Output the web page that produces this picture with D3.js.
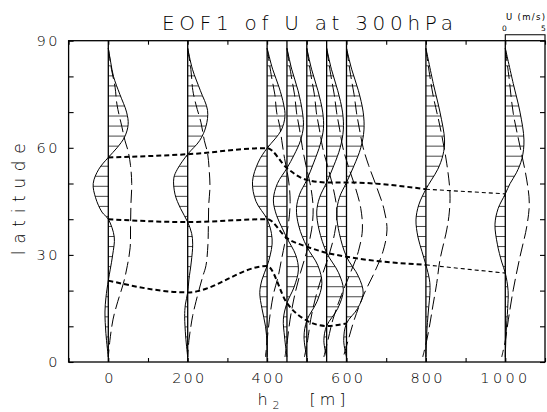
<!DOCTYPE html>
<html>
<head>
<meta charset="utf-8">
<script src="https://cdn.jsdelivr.net/npm/d3@7"></script>
<style>
  html, body { margin: 0; padding: 0; background: #fff; }
  svg { display: block; }
  text { font-family: "DejaVu Sans", sans-serif; fill: #000; }
</style>
</head>
<body>
<svg id="chart" width="547" height="412"></svg>
<script>
// Experiments: mountain height h2 (m)
const h2Values = [0, 200, 400, 450, 500, 550, 600, 800, 1000];
const xTickLabels = [0, 200, 400, 600, 800, 1000];
const yTickLabels = [0, 30, 60, 90];

// Latitudes where EOF1 changes sign, one per experiment
const northNode = [57.3, 58.2, 59.9, 54.3, 51.0, 50.3, 50.3, 48.4, 47.1];
const middleNode = [40.0, 39.2, 40.0, 34.7, 32.3, 30.6, 29.5, 27.2, 24.9];
const southNode = [22.8, 19.5, 26.9, 16.5, 11.6, 10.1, 10.8];

// EOF1 of U (m/s) as [latitude, value]
const eof0 = [[87.9,0],[84,0.3],[80,0.65],[75,1.45],[70,2.3],[66.5,2.5],[63,2.05],[60,1.1],[57.3,0],[54,-1.2],[50,-1.9],[46,-1.6],[42,-0.8],[40,0],[35,0.75],[30,0.55],[26,0.25],[22.8,0],[18,-0.3],[14,-0.42],[8,-0.3],[1.4,0]];
const eof200 = [[87.9,0],[82,0.6],[76,1.6],[70.5,2.5],[66,2.3],[62,1.5],[58.2,0],[54,-1.3],[51.5,-1.75],[47,-1.6],[43,-0.9],[39.2,0],[36,0.5],[33,0.63],[28,0.45],[23,0.15],[19.5,0],[16,-0.3],[12.7,-0.38],[7,-0.25],[1.4,0]];
const eof400 = [[87.9,0],[82,0.7],[77,1.5],[72,2.1],[68.8,2.25],[65,1.8],[62.5,1.0],[59.9,0],[56,-1.1],[50.5,-1.84],[45,-1.4],[40,0],[36,0.55],[33,0.63],[30,0.4],[26.9,0],[23,-0.65],[19.4,-0.92],[15,-0.65],[10,-0.2],[5,0],[1.4,0]];
const eof450 = [[87.9,0],[82,0.6],[76,1.4],[70,1.95],[66,2.07],[62,1.7],[58,0.9],[54.3,0],[50,-1.2],[45.4,-1.71],[41,-1.3],[37.5,-0.6],[34.7,0],[30,1.1],[25.8,1.44],[21,0.9],[16.5,0],[12,-0.45],[7,-0.3],[1.4,0]];
const eof500 = [[87.9,0],[82,0.6],[76,1.4],[70,2.0],[65.5,2.1],[61,1.7],[56,0.9],[51,0],[47,-0.9],[43,-1.3],[38,-1.0],[32.3,0],[27,1.4],[22,1.9],[17,1.3],[11.6,0],[7,-0.35],[1.4,0]];
const eof550 = [[87.9,0],[82,0.6],[76,1.4],[70,2.0],[65,2.1],[60,1.7],[55,0.9],[50.3,0],[46,-0.9],[42,-1.25],[37,-0.95],[30.6,0],[25,1.5],[20.2,2.1],[15,1.4],[10.1,0],[6,-0.35],[1.4,0]];
const eof600 = [[87.9,0],[82,0.65],[76,1.5],[70,2.1],[65,2.2],[60,1.8],[55,0.95],[50.3,0],[46,-0.9],[41.7,-1.24],[36,-0.9],[29.5,0],[24,1.5],[19.3,2.1],[15,1.4],[10.8,0],[6,-0.35],[1.4,0]];
const eof800 = [[87.9,0],[78,0.93],[70,1.77],[62.2,2.35],[58,2.15],[54,1.5],[51,0.7],[48.4,0],[44,-0.9],[39.8,-1.25],[35,-1.0],[31,-0.5],[27.2,0],[23,0.45],[20,0.52],[14,0.3],[8,0.1],[1.4,0]];
const eof1000 = [[87.9,0],[78,1.0],[70,1.85],[62.2,2.35],[57,2.1],[53,1.4],[50,0.6],[47.1,0],[43,-0.9],[38.6,-1.3],[33,-1.0],[28,-0.45],[24.9,0],[20,0.35],[15,0.3],[8,0.1],[1.4,0]];

// Time-mean U (m/s) as [latitude, value]
const mean0 = [[87.9,0],[82,0.4],[77,0.85],[72,1.1],[66,1.7],[62,2.1],[59,2.5],[55,2.8],[50,2.95],[44,2.85],[38,2.8],[32,2.75],[27,2.4],[22,1.9],[17,1.2],[12,0.6],[6,0.2],[1.4,0]];
const mean200 = [[87.9,0],[82,0.4],[76,0.65],[72,1.05],[67,1.68],[62,2.1],[58.5,2.5],[53,2.73],[49,2.8],[44,2.65],[38,2.6],[33,2.55],[27,2.3],[24,1.9],[20,1.4],[17,1.05],[13,0.63],[10,0.4],[6,0.15],[1.4,0]];
const mean400 = [[87.9,0],[80,0.55],[75,0.97],[70,1.2],[66,1.6],[62,1.85],[57,2.2],[51,2.7],[45,2.9],[39,2.7],[33,2.2],[28,1.75],[24,1.4],[19,0.8],[12,0.3],[6,0],[1.4,-0.2]];
const mean450 = [[87.9,0],[80,0.55],[75,0.95],[70,1.2],[65,1.6],[60,1.95],[55,2.4],[49,3.0],[43,3.3],[37,3.1],[31,2.5],[25,1.7],[19,1.0],[12,0.4],[6,0.05],[1.4,-0.25]];
const mean500 = [[87.9,0],[80,0.55],[75,0.95],[70,1.2],[65,1.6],[60,2.0],[55,2.6],[49,3.3],[42,3.8],[36,3.5],[30,2.8],[24,1.9],[18,1.1],[12,0.5],[6,0.1],[1.4,-0.3]];
const mean550 = [[87.9,0],[80,0.55],[75,0.95],[70,1.25],[65,1.65],[60,2.05],[55,2.7],[49,3.6],[43,4.3],[37,4.5],[31,4.0],[25,3.0],[19,1.9],[12,0.8],[6,0.15],[1.4,-0.35]];
const mean600 = [[87.9,0],[80,0.55],[75,0.95],[70,1.25],[65,1.65],[60,2.1],[55,2.8],[49,3.8],[43,4.7],[37,5.1],[31,4.6],[25,3.5],[19,2.2],[12,1.0],[6,0.2],[1.4,-0.4]];
const mean800 = [[87.9,0],[80,0.5],[74.4,0.93],[66,1.77],[55.7,2.62],[47.3,3.03],[42,2.95],[37,2.62],[28.6,1.77],[22,1.36],[16,0.9],[10.9,0.52],[6,0.1],[1.4,-0.4]];
const mean1000 = [[87.9,0],[80,0.45],[69.7,1.0],[60.4,1.85],[51,2.7],[44.5,3.02],[37.9,2.7],[29.5,1.85],[20.2,1.0],[11.8,0.38],[6,0],[1.4,-0.45]];

const eofProfiles = [eof0, eof200, eof400, eof450, eof500, eof550, eof600, eof800, eof1000];
const meanProfiles = [mean0, mean200, mean400, mean450, mean500, mean550, mean600, mean800, mean1000];

const svg = d3.select("#chart");
const plotLeft = 68.6, plotRight = 545, plotTop = 40.7, plotBottom = 362;

const x = d3.scaleLinear().domain([-100, 1100]).range([plotLeft, plotRight]);
const y = d3.scaleLinear().domain([0, 90]).range([plotBottom, plotTop]);
// wind speed (m/s) expressed in h2 units: 5 m/s spans 100 m
const speed = d3.scaleLinear().domain([0, 5]).range([0, 100]);

const curve = d3.curveCatmullRom.alpha(0.5);
const hatchLats = d3.range(1.4, 88.5, 2.8125);

// profiles
const profiles = svg.append("g");
h2Values.forEach((h, i) => {
  const g = profiles.append("g");
  const px = d => x(h + speed(d[1]));
  const area = d3.area().y(d => y(d[0])).x0(x(h)).x1(px).curve(curve);
  const line = d3.line().x(px).y(d => y(d[0])).curve(curve);

  const clipId = "lobe-" + i;
  svg.append("clipPath").attr("id", clipId)
    .append("path").attr("d", area(eofProfiles[i]));

  g.append("g").attr("clip-path", `url(#${clipId})`)
    .selectAll("line").data(hatchLats).join("line")
    .attr("x1", x(h) - 40).attr("x2", x(h) + 40)
    .attr("y1", d => y(d)).attr("y2", d => y(d))
    .attr("stroke", "#333").attr("stroke-width", 0.9);

  g.append("line")
    .attr("x1", x(h)).attr("x2", x(h))
    .attr("y1", y(0)).attr("y2", y(90))
    .attr("stroke", "#000").attr("stroke-width", 1.3);

  g.append("path").attr("d", line(eofProfiles[i]))
    .attr("fill", "none").attr("stroke", "#000").attr("stroke-width", 1);

  g.append("path").attr("d", line(meanProfiles[i]))
    .attr("fill", "none").attr("stroke", "#000").attr("stroke-width", 1)
    .attr("stroke-dasharray", "13,5");
});

// lines joining the sign changes of EOF1
const nodeLine = d3.line()
  .x(d => x(d[0])).y(d => y(d[1]))
  .curve(d3.curveMonotoneX);
const nodeGroup = svg.append("g").attr("fill", "none").attr("stroke", "#000");
[northNode, middleNode, southNode].forEach(node => {
  const pts = node.map((lat, i) => [h2Values[i], lat]);
  const heavy = pts.slice(0, Math.min(pts.length, 8));
  nodeGroup.append("path").attr("d", nodeLine(heavy))
    .attr("stroke-width", 2).attr("stroke-dasharray", "5,3");
  if (pts.length > 8) {
    nodeGroup.append("path").attr("d", nodeLine(pts.slice(7)))
      .attr("stroke-width", 1.1).attr("stroke-dasharray", "4,3");
  }
});

// frame
svg.append("rect")
  .attr("x", plotLeft).attr("y", plotTop)
  .attr("width", plotRight - plotLeft).attr("height", plotBottom - plotTop)
  .attr("fill", "none").attr("stroke", "#000").attr("stroke-width", 1.3);

// axes
const xTicks = d3.range(-100, 1101, 100);
const yTicks = d3.range(0, 91, 10);
const labelWidth = s => s.length === 1 ? null : (s.length === 2 ? 21 : (s.length === 3 ? 32 : 47));

const xAxis = svg.append("g").attr("transform", `translate(0,${plotBottom})`)
  .call(d3.axisBottom(x).tickValues(xTicks).tickSize(-4).tickPadding(10.5)
    .tickFormat(d => xTickLabels.includes(d) ? String(d) : ""));
svg.append("g").attr("transform", `translate(0,${plotTop})`)
  .call(d3.axisTop(x).tickValues(xTicks).tickSize(-4).tickFormat(""));
const yAxis = svg.append("g").attr("transform", `translate(${plotLeft},0)`)
  .call(d3.axisLeft(y).tickValues(yTicks).tickSize(-5).tickPadding(11)
    .tickFormat(d => yTickLabels.includes(d) ? String(d) : ""));
svg.append("g").attr("transform", `translate(${plotRight},0)`)
  .call(d3.axisRight(y).tickValues(yTicks).tickSize(-5).tickFormat(""));

svg.selectAll(".domain").remove();
svg.selectAll(".tick line").attr("stroke", "#000").attr("stroke-width", 1.1);
[xAxis, yAxis].forEach(ax => {
  ax.selectAll("text")
    .attr("font-family", "DejaVu Sans, sans-serif")
    .attr("font-size", 14.5)
    .attr("font-weight", 300)
    .attr("fill", "#000")
    .each(function() {
      const w = labelWidth(this.textContent);
      if (w) d3.select(this).attr("textLength", w).attr("lengthAdjust", "spacing");
    });
});
xAxis.selectAll(".tick text").filter(d => d === 1000).attr("dx", -2);

// titles
svg.append("text")
  .attr("x", 307.5).attr("y", 29.5)
  .attr("text-anchor", "middle")
  .attr("font-size", 20)
  .attr("font-weight", 300)
  .attr("textLength", 291).attr("lengthAdjust", "spacing")
  .text("EOF1 of U at 300hPa");

const xTitle = svg.append("text").attr("y", 404.5).attr("font-size", 16).attr("font-weight", 300);
xTitle.append("tspan").attr("x", 257.5).text("h");
xTitle.append("tspan").attr("x", 272.5).attr("dy", 4).attr("font-size", 11).text("2");
xTitle.append("tspan").attr("x", 309.5).attr("dy", -4)
  .attr("textLength", 36).attr("lengthAdjust", "spacing").text("[m]");

svg.append("text")
  .attr("transform", "translate(25,199.2) rotate(-90)")
  .attr("text-anchor", "middle")
  .attr("font-size", 17)
  .attr("font-weight", 300)
  .attr("textLength", 112).attr("lengthAdjust", "spacing")
  .text("latitude");

// wind-speed key
const key = svg.append("g");
key.append("path")
  .attr("d", `M${x(1000)},${plotTop} V34.8 H${x(1100)} V${plotTop}`)
  .attr("fill", "none").attr("stroke", "#000").attr("stroke-width", 1.1);
key.append("text").attr("x", 506).attr("y", 20.3)
  .attr("font-size", 8.5).attr("textLength", 39).attr("lengthAdjust", "spacing")
  .text("U (m/s)");
key.append("text").attr("x", x(1000) - 0.8).attr("y", 31.3)
  .attr("text-anchor", "middle").attr("font-size", 7.5).text("0");
key.append("text").attr("x", x(1000 + speed(5)) - 1.5).attr("y", 31.3)
  .attr("text-anchor", "middle").attr("font-size", 7.5).text("5");
</script>
</body>
</html>
